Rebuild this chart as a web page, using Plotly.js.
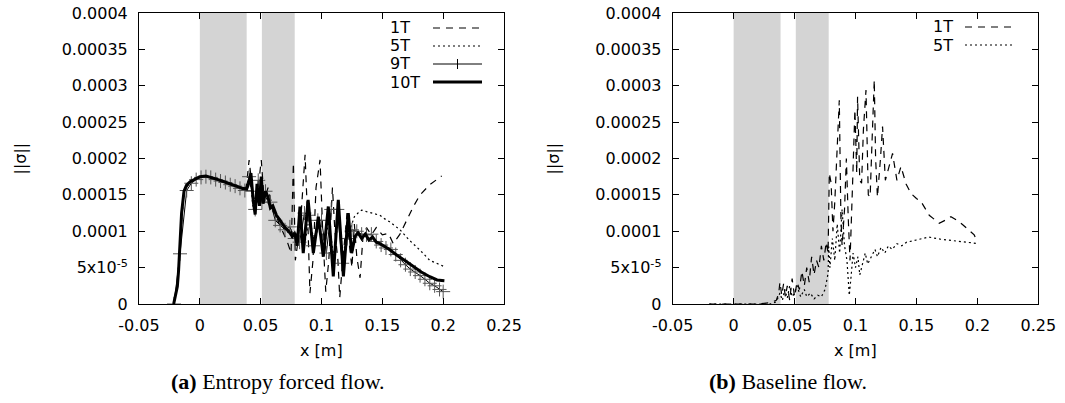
<!DOCTYPE html>
<html>
<head>
<meta charset="utf-8">
<script src="https://cdn.plot.ly/plotly-3.0.1.min.js"></script>
<style>
html,body{margin:0;padding:0;background:#fff;}
#chart{width:1065px;height:403px;}
</style>
</head>
<body>
<div id="chart"></div>
<script>
// ---------- DATA ----------
// Panel (a): Entropy forced flow
const xA10T = [-0.0215,-0.0200,-0.0185,-0.0175,-0.0165,-0.0150,-0.0130,-0.0110,-0.0080,-0.0040,0.0000,0.0050,0.0100,0.0150,0.0200,0.0250,0.0300,0.0350,0.0385,0.0400,0.0420,0.0440,0.0455,0.0470,0.0490,0.0505,0.0520,0.0540,0.0560,0.0580,0.0600,0.0630,0.0660,0.0700,0.0730,0.0760,0.0780,0.0800,0.0823,0.0850,0.0890,0.0933,0.0974,0.1015,0.1056,0.1097,0.1138,0.1180,0.1220,0.1248,0.1276,0.1300,0.1330,0.1360,0.1390,0.1420,0.1450,0.1480,0.1550,0.1620,0.1700,0.1755,0.1820,0.1890,0.1950,0.2010];
const yA10T = [0,1.5e-5,2.4e-5,4.5e-5,8e-5,12.5e-5,15.5e-5,16.3e-5,16.8e-5,17.2e-5,17.5e-5,17.6e-5,17.4e-5,17.1e-5,16.8e-5,16.5e-5,16.2e-5,15.9e-5,15.8e-5,16.5e-5,18.0e-5,14.0e-5,12.3e-5,16.5e-5,13.5e-5,17.5e-5,13.8e-5,15.5e-5,14.7e-5,13.2e-5,13.5e-5,12.2e-5,11.5e-5,10.5e-5,10.0e-5,9.3e-5,9.8e-5,8.0e-5,13.4e-5,7.0e-5,14.3e-5,7.0e-5,12.0e-5,6.5e-5,13.4e-5,3.8e-5,14.3e-5,3.8e-5,12.5e-5,7.0e-5,9.3e-5,9.8e-5,9.0e-5,9.6e-5,8.8e-5,9.2e-5,8.5e-5,8.3e-5,7.6e-5,6.7e-5,5.8e-5,5.1e-5,4.4e-5,3.75e-5,3.3e-5,3.2e-5];

const xA9T = [-0.0212,-0.0163,-0.0108,-0.0070,-0.0030,0.0010,0.0050,0.0090,0.0130,0.0170,0.0210,0.0250,0.0290,0.0330,0.0370,0.0405,0.0430,0.0455,0.0480,0.0510,0.0540,0.0580,0.0620,0.0660,0.0700,0.0740,0.0780,0.0820,0.0860,0.0890,0.0930,0.0970,0.1000,0.1040,0.1080,0.1130,0.1170,0.1210,0.1250,0.1290,0.1330,0.1370,0.1410,0.1450,0.1490,0.1530,0.1570,0.1610,0.1650,0.1690,0.1730,0.1770,0.1810,0.1850,0.1890,0.1930,0.1970,0.2000];
const yA9T = [0,6.9e-5,15.6e-5,16.6e-5,17.1e-5,17.4e-5,17.5e-5,17.4e-5,17.1e-5,16.9e-5,16.7e-5,16.4e-5,16.2e-5,15.9e-5,15.6e-5,17.5e-5,15.5e-5,13.0e-5,17.0e-5,14.0e-5,15.5e-5,14.0e-5,11.5e-5,10.8e-5,10.2e-5,10.6e-5,9.0e-5,8.5e-5,12.5e-5,12.2e-5,8.0e-5,11.5e-5,11.5e-5,7.0e-5,13.0e-5,13.0e-5,5.6e-5,9.0e-5,10.2e-5,10.0e-5,9.6e-5,9.5e-5,9.6e-5,8.6e-5,8.1e-5,7.7e-5,7.5e-5,6.8e-5,6.0e-5,5.4e-5,4.8e-5,4.4e-5,3.9e-5,3.4e-5,2.85e-5,2.5e-5,2.0e-5,1.7e-5];

const xA1T = [-0.0215,-0.0185,-0.0165,-0.0130,-0.0080,0.0000,0.0100,0.0200,0.0300,0.0380,0.0405,0.0430,0.0450,0.0480,0.0505,0.0530,0.0560,0.0600,0.0640,0.0680,0.0720,0.0750,0.0769,0.0785,0.0810,0.0835,0.0865,0.0890,0.0905,0.0930,0.0955,0.0988,0.1010,0.1035,0.1060,0.1090,0.1110,0.1135,0.1150,0.1170,0.1190,0.1210,0.1230,0.1250,0.1270,0.1290,0.1317,0.1340,0.1370,0.1410,0.1450,0.1500,0.1550,0.1590,0.1645,0.1700,0.1755,0.1810,0.1890,0.1988];
const yA1T = [0,2.4e-5,8e-5,15.5e-5,16.8e-5,17.5e-5,17.4e-5,16.8e-5,16.2e-5,15.8e-5,19.8e-5,15.5e-5,13.0e-5,16.0e-5,19.8e-5,14.0e-5,16.0e-5,13.0e-5,11.5e-5,10.0e-5,8.5e-5,7.0e-5,19.4e-5,6.0e-5,9.0e-5,13.0e-5,20.5e-5,10.0e-5,1.5e-5,6.0e-5,16.0e-5,19.8e-5,10.0e-5,1.7e-5,6.0e-5,16.0e-5,10.0e-5,6.0e-5,0.9e-5,5.0e-5,9.0e-5,12.5e-5,8.0e-5,5.0e-5,11.0e-5,6.5e-5,3.6e-5,9.0e-5,10.5e-5,9.5e-5,10.5e-5,9.5e-5,9.7e-5,8.3e-5,9.6e-5,11.5e-5,13.4e-5,15.0e-5,16.4e-5,17.6e-5];

const xA5T = [-0.0215,-0.0185,-0.0165,-0.0130,-0.0080,0.0000,0.0100,0.0200,0.0300,0.0380,0.0410,0.0440,0.0470,0.0500,0.0530,0.0570,0.0610,0.0650,0.0700,0.0750,0.0800,0.0830,0.0860,0.0900,0.0940,0.0980,0.1020,0.1060,0.1100,0.1140,0.1180,0.1210,0.1240,0.1270,0.1300,0.1330,0.1370,0.1410,0.1450,0.1480,0.1520,0.1560,0.1645,0.1720,0.1810,0.1890,0.2015];
const yA5T = [0,2.4e-5,8e-5,15.5e-5,16.8e-5,17.5e-5,17.4e-5,16.8e-5,16.2e-5,15.8e-5,17.5e-5,13.0e-5,16.0e-5,14.0e-5,15.5e-5,13.5e-5,12.5e-5,11.2e-5,10.2e-5,9.5e-5,9.0e-5,11.0e-5,8.0e-5,12.0e-5,8.5e-5,11.0e-5,7.5e-5,11.5e-5,6.5e-5,12.0e-5,6.5e-5,11.0e-5,10.5e-5,12.0e-5,12.5e-5,12.9e-5,12.7e-5,12.5e-5,12.4e-5,12.2e-5,11.7e-5,11.3e-5,10.2e-5,8.8e-5,7.4e-5,6.0e-5,5.1e-5];

// Panel (b): Baseline flow
const xB1T = [-0.0200,-0.0100,0.0000,0.0100,0.0200,0.0300,0.0350,0.0370,0.0380,0.0395,0.0410,0.0425,0.0440,0.0460,0.0480,0.0500,0.0520,0.0540,0.0560,0.0580,0.0600,0.0620,0.0640,0.0660,0.0680,0.0700,0.0720,0.0740,0.0760,0.0775,0.0780,0.0785,0.0800,0.0815,0.0830,0.0850,0.0867,0.0880,0.0890,0.0910,0.0925,0.0940,0.0955,0.0975,0.0995,0.1010,0.1017,0.1035,0.1050,0.1065,0.1086,0.1105,0.1120,0.1135,0.1154,0.1165,0.1180,0.1205,0.1222,0.1245,0.1275,0.1304,0.1340,0.1373,0.1415,0.1455,0.1500,0.1537,0.1605,0.1687,0.1735,0.1783,0.1835,0.1880,0.1974,0.2000];
const yB1T = [0,0,0,0,0,0.2e-5,0.5e-5,1.5e-5,3.0e-5,1.2e-5,2.8e-5,1.0e-5,2.5e-5,0.5e-5,3.5e-5,1.0e-5,3.0e-5,2.0e-5,4.5e-5,2.5e-5,5.0e-5,3.0e-5,6.5e-5,4.0e-5,6.0e-5,5.0e-5,8.0e-5,6.0e-5,8.5e-5,7.0e-5,15.0e-5,18.0e-5,16.6e-5,10.0e-5,14.0e-5,22.0e-5,28.0e-5,12.0e-5,8.0e-5,13.0e-5,20.0e-5,12.0e-5,6.0e-5,16.0e-5,26.7e-5,18.0e-5,28.5e-5,17.0e-5,16.6e-5,24.0e-5,29.4e-5,15.0e-5,14.7e-5,22.0e-5,30.8e-5,20.0e-5,14.7e-5,20.0e-5,24.4e-5,17.0e-5,19.0e-5,20.7e-5,17.0e-5,18.9e-5,16.5e-5,15.2e-5,14.5e-5,14.1e-5,12.2e-5,11.1e-5,11.5e-5,12.0e-5,11.5e-5,10.9e-5,9.5e-5,8.5e-5];

const xB5T = [-0.0200,-0.0100,0.0000,0.0100,0.0200,0.0300,0.0350,0.0380,0.0400,0.0420,0.0440,0.0460,0.0480,0.0500,0.0520,0.0550,0.0580,0.0600,0.0630,0.0660,0.0690,0.0720,0.0750,0.0775,0.0780,0.0790,0.0810,0.0830,0.0850,0.0870,0.0890,0.0910,0.0930,0.0949,0.0965,0.0980,0.1000,0.1020,0.1035,0.1060,0.1080,0.1100,0.1130,0.1160,0.1180,0.1210,0.1240,0.1270,0.1300,0.1340,0.1380,0.1420,0.1500,0.1600,0.1700,0.1800,0.1900,0.2010];
const yB5T = [0,0,0,0,0,0,0.3e-5,1.5e-5,0.5e-5,2.0e-5,0.8e-5,2.5e-5,1.0e-5,1.5e-5,2.5e-5,1.0e-5,2.0e-5,1.0e-5,1.5e-5,0.7e-5,1.2e-5,1.0e-5,2.0e-5,4.2e-5,7.9e-5,5.0e-5,9.0e-5,6.0e-5,11.0e-5,7.0e-5,13.0e-5,8.0e-5,6.0e-5,1.2e-5,4.0e-5,7.0e-5,5.0e-5,6.5e-5,4.0e-5,5.5e-5,7.0e-5,5.5e-5,6.5e-5,7.5e-5,6.5e-5,7.8e-5,7.0e-5,8.0e-5,7.5e-5,8.3e-5,8.0e-5,8.5e-5,8.8e-5,9.2e-5,8.9e-5,8.7e-5,8.5e-5,8.3e-5];

// shaded regions (x from, x to)
const shadedRegions = [[0.0, 0.0385], [0.051, 0.078]];

// tick labels
const xTickVals = [-0.05, 0, 0.05, 0.1, 0.15, 0.2, 0.25];
const xTickText = ['-0.05', '0', '0.05', '0.1', '0.15', '0.2', '0.25'];
const yTickVals = [0, 5e-5, 1e-4, 1.5e-4, 2e-4, 2.5e-4, 3e-4, 3.5e-4, 4e-4];
const yTickText = ['0', '5x10<sup>-5</sup>', '0.0001', '0.00015', '0.0002', '0.00025', '0.0003', '0.00035', '0.0004'];

const seriesNamesA = ['1T', '5T', '9T', '10T'];
const seriesNamesB = ['1T', '5T'];
const captions = ['<b>(a)</b> Entropy forced flow.', '<b>(b)</b> Baseline flow.'];

// ---------- STYLE ----------
const W = 1065, H = 403;
const px = v => v / W;
const py = v => 1 - v / H;
const tickFont = {family: 'DejaVu Sans, Liberation Sans, Arial, sans-serif', size: 16, color: '#000'};
const styles = {
  '1T': {color: '#000', width: 1.2, dash: '7px,6px'},
  '5T': {color: '#000', width: 1.2, dash: '2px,3px'},
  '9T': {color: '#000', width: 1, dash: 'solid'},
  '10T': {color: '#000', width: 3, dash: 'solid'}
};

function tr(x, y, name, xa, ya) {
  const t = {x: x, y: y, type: 'scatter', mode: 'lines', name: name, xaxis: xa, yaxis: ya,
             line: Object.assign({}, styles[name]), showlegend: false, hoverinfo: 'skip'};
  if (name === '9T') {
    t.mode = 'lines+markers';
    t.marker = {symbol: 'cross-thin-open', size: 10, line: {color: '#555', width: 1}, color: '#555'};
  }
  return t;
}

const data = [
  tr(xA1T, yA1T, '1T', 'x', 'y'),
  tr(xA5T, yA5T, '5T', 'x', 'y'),
  tr(xA9T, yA9T, '9T', 'x', 'y'),
  tr(xA10T, yA10T, '10T', 'x', 'y'),
  tr(xB1T, yB1T, '1T', 'x2', 'y2'),
  tr(xB5T, yB5T, '5T', 'x2', 'y2')
];

function xAxis(domain) {
  return {domain: domain, range: [-0.05, 0.25], tickvals: xTickVals, ticktext: xTickText,
          ticks: 'inside', ticklen: 6, tickwidth: 1, tickcolor: '#000', showline: true, linecolor: '#000',
          linewidth: 1, mirror: 'ticks', showgrid: false, zeroline: false, tickfont: tickFont,
          ticklabelstandoff: 7, fixedrange: true};
}
function yAxis(domain, anchor) {
  return {domain: domain, anchor: anchor, range: [0, 4e-4], tickvals: yTickVals, ticktext: yTickText,
          ticks: 'inside', ticklen: 6, tickwidth: 1, tickcolor: '#000', showline: true, linecolor: '#000',
          linewidth: 1, mirror: 'ticks', showgrid: false, zeroline: false, tickfont: tickFont,
          ticklabelstandoff: 7, fixedrange: true};
}

const yDom = [py(304), py(13)];
const layout = {
  width: W, height: H, margin: {l: 0, r: 0, t: 0, b: 0},
  paper_bgcolor: '#fff', plot_bgcolor: 'rgba(0,0,0,0)',
  showlegend: false,
  xaxis: Object.assign(xAxis([px(139), px(504)]), {anchor: 'y'}),
  yaxis: yAxis(yDom, 'x'),
  xaxis2: Object.assign(xAxis([px(672.7), px(1038.3)]), {anchor: 'y2'}),
  yaxis2: yAxis(yDom, 'x2'),
  shapes: [],
  annotations: []
};

// shaded regions
[['x', 'y domain'], ['x2', 'y2 domain']].forEach(([xr, yr]) => {
  shadedRegions.forEach(r => {
    layout.shapes.push({type: 'rect', xref: xr, yref: yr, x0: r[0], x1: r[1], y0: 0, y1: 1,
                        fillcolor: '#d4d4d4', line: {width: 0}, layer: 'below'});
  });
});

// axis titles and captions
const labFont = {family: 'DejaVu Sans, Liberation Sans, Arial, sans-serif', size: 16, color: '#000'};
const capFont = {family: 'Liberation Serif, Times New Roman, serif', size: 22, color: '#000'};
[[321.5, 20, captions[0], 278], [855.5, 553, captions[1], 788]].forEach(([cx, yx, cap, capx]) => {
  layout.annotations.push({text: 'x [m]', x: px(cx), y: py(350), xref: 'paper', yref: 'paper',
                           xanchor: 'center', yanchor: 'middle', showarrow: false, font: labFont});
  layout.annotations.push({text: '||σ||', x: px(yx), y: py(158.5), xref: 'paper', yref: 'paper',
                           xanchor: 'center', yanchor: 'middle', textangle: -90, showarrow: false, font: labFont});
  layout.annotations.push({text: cap, x: px(capx), y: py(381), xref: 'paper', yref: 'paper',
                           xanchor: 'center', yanchor: 'middle', showarrow: false, font: capFont});
});

// custom gnuplot-style legends (text, then sample line)
function legendRow(name, textX, rowY, lx0, lx1) {
  layout.annotations.push({text: name, x: px(textX), y: py(rowY), xref: 'paper', yref: 'paper',
                           xanchor: 'left', yanchor: 'middle', showarrow: false, font: labFont});
  const s = styles[name];
  layout.shapes.push({type: 'line', xref: 'paper', yref: 'paper', x0: px(lx0), x1: px(lx1), y0: py(rowY), y1: py(rowY),
                      line: {color: s.color, width: s.width, dash: s.dash}});
  if (name === '9T') {
    const cx = (lx0 + lx1) / 2;
    layout.shapes.push({type: 'line', xref: 'paper', yref: 'paper', x0: px(cx), x1: px(cx), y0: py(rowY - 5), y1: py(rowY + 5),
                        line: {color: '#000', width: 1}});
  }
}
const rowsA = [28, 46, 64, 82];
seriesNamesA.forEach((n, i) => legendRow(n, 388, rowsA[i], 433, 482));
const rowsB = [27, 45];
seriesNamesB.forEach((n, i) => legendRow(n, 931, rowsB[i], 965, 1015));

Plotly.newPlot('chart', data, layout, {staticPlot: true, displayModeBar: false});
</script>
</body>
</html>
